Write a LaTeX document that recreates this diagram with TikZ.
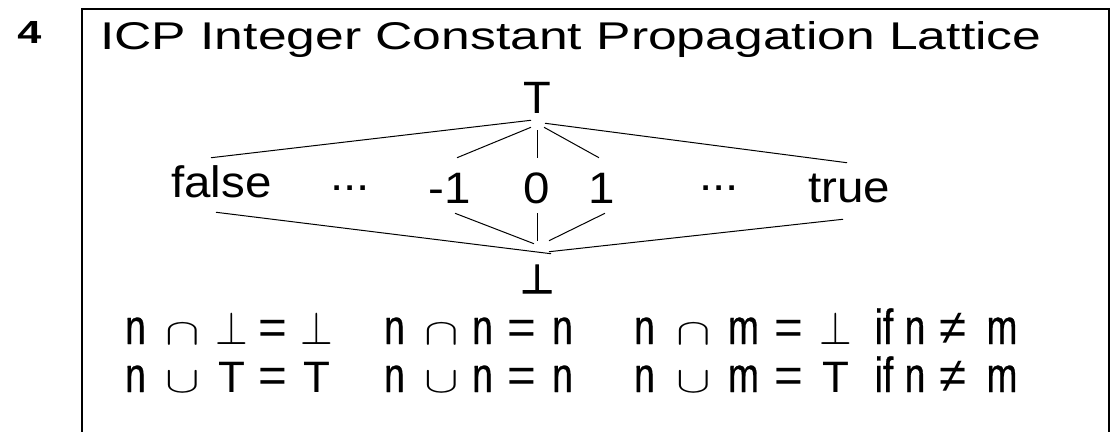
\documentclass[tikz,border=0pt]{standalone}
\usepackage{fix-cm}
\usepackage{graphicx}
\usepackage{fontspec}
\setmainfont{Liberation Sans}
\newfontfamily\titlefont[FakeStretch=1.335]{Liberation Sans}
\newfontfamily\numfont[FakeStretch=1.35]{Liberation Sans}
\newfontfamily\latfont[FakeStretch=1.08]{Liberation Sans}
\newfontfamily\eqfont[FakeStretch=0.75, FakeBold=0.6]{Liberation Sans}
\newfontfamily\symfont[FakeBold=2.5]{DejaVu Sans}

\newcommand\meet{\scalebox{1.05}[0.75]{$\cap$}}
\newcommand\join{\scalebox{1.05}[0.75]{$\cup$}}
\newcommand\bott{\scalebox{0.85}[0.95]{$\perp$}}
\newcommand\eqsign{{\normalfont=}}
\newcommand\topel{{\normalfont\fontsize{33}{36}\selectfont T}}
\newcommand\neqsign{{\normalfont ≠}}

\begin{document}
\begin{tikzpicture}[x=0.75pt, y=-0.75pt,
    every node/.style={inner sep=0pt, anchor=base},
    lat/.style={font=\latfont\fontsize{33}{35}\selectfont, text height=21pt, text depth=0pt},
    eq/.style={font=\eqfont\fontsize{37}{40}\selectfont},
    conn/.style={line width=0.75pt}]
    \useasboundingbox (0,0) rectangle (1111,432);

    \draw[line width=1.1pt] (82,440) -- (82,9) -- (1109,9) -- (1109,440);
    \node[font=\numfont\bfseries\fontsize{24}{26}\selectfont] (num) at (29.5,43) {4};
    \node[anchor=base west, font=\titlefont\fontsize{29}{31}\selectfont] (title) at (100,49)
        {ICP Integer Constant Propagation Lattice};

    % lattice
    \node[font=\fontsize{34}{36}\selectfont] (top) at (537,113) {T};
    \node[lat] (false) at (221.5,197) {false};
    \node[lat] (ldots) at (350,190) {...};
    \node[lat] (mone) at (450,203) {-1};
    \node[lat] (zero) at (537,203) {0};
    \node[lat] (one) at (602,203) {1};
    \node[lat] (rdots) at (719,190) {...};
    \node[lat] (true) at (849,202) {true};
    \node[font=\symfont\fontsize{30}{32}\selectfont, text height=22.5pt] (bot) at (537,293) {⊥};

    \draw[conn] ([shift={(-6,7)}]top.south) -- ([shift={(-10.5,-11)}]false.north);
    \draw[conn] ([shift={(-6,14)}]top.south) -- ([shift={(7,-17)}]mone.north);
    \draw[conn] ([shift={(0,17)}]top.south) -- ([shift={(0,-17)}]zero.north);
    \draw[conn] ([shift={(7,14)}]top.south) -- ([shift={(-3,-17)}]one.north);
    \draw[conn] ([shift={(8,10)}]top.south) -- ([shift={(-2,-11)}]true.north);

    \draw[conn] ([shift={(-5.5,15)}]false.south) -- ([shift={(14,-9)}]bot.north);
    \draw[conn] ([shift={(5,10)}]mone.south) -- ([shift={(-3,-19)}]bot.north);
    \draw[conn] ([shift={(0,10)}]zero.south) -- ([shift={(0,-22)}]bot.north);
    \draw[conn] ([shift={(3,10)}]one.south) -- ([shift={(12,-22)}]bot.north);
    \draw[conn] ([shift={(-6,17)}]true.south) -- ([shift={(12,-11)}]bot.north);

    % meet and join rules
    \foreach \x/\t [count=\i] in {135.5/n, 183/\meet, 232/\bott, 272.5/\eqsign, 317/\bott,
        394.5/n, 442/\meet, 482.5/n, 521.5/\eqsign, 562.5/n,
        644.5/n, 694/\meet, 743.5/m, 788.5/\eqsign, 836/\bott, 884/if, 915/n, 953/\neqsign, 1002/m}
        \node[eq] (ma\i) at (\x,344) {\t};
    \foreach \x/\t [count=\i] in {135.5/n, 183/\join, 232/\topel, 272.5/\eqsign, 317/\topel,
        394.5/n, 442/\join, 482.5/n, 521.5/\eqsign, 562.5/n,
        644.5/n, 694/\join, 743.5/m, 788.5/\eqsign, 836/\topel, 884/if, 915/n, 953/\neqsign, 1002/m}
        \node[eq] (jo\i) at (\x,392) {\t};
\end{tikzpicture}
\end{document}
